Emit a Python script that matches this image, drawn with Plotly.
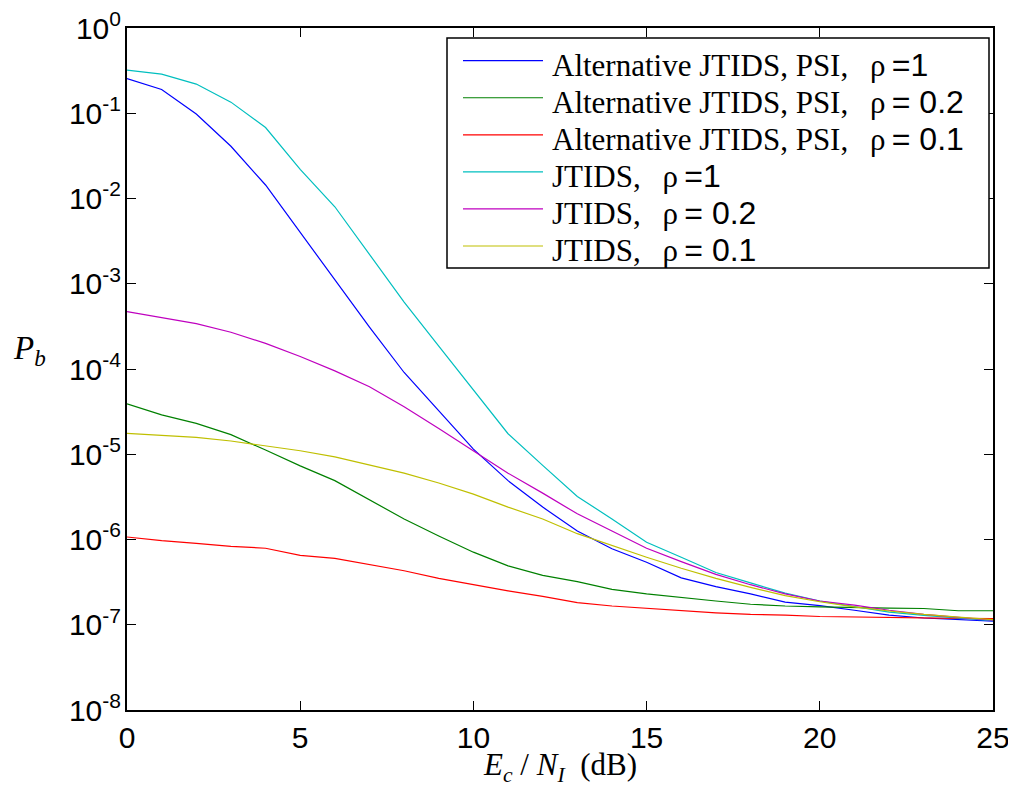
import plotly.graph_objects as go

x_db = list(range(26))

alt_rho1 = [0.255, 0.19, 0.098, 0.041, 0.0144, 0.004, 1.1e-3, 3.1e-4, 9.1e-5, 3.2e-5,
            1.15e-5, 4.9e-6, 2.4e-6, 1.26e-6, 7.8e-7, 5.4e-7, 3.55e-7, 2.8e-7, 2.3e-7, 1.84e-7,
            1.68e-7, 1.48e-7, 1.3e-7, 1.2e-7, 1.15e-7, 1.1e-7]
alt_rho02 = [3.9e-5, 2.9e-5, 2.3e-5, 1.7e-5, 1.12e-5, 7.3e-6, 4.9e-6, 2.9e-6, 1.74e-6, 1.1e-6,
             7.1e-7, 4.9e-7, 3.8e-7, 3.2e-7, 2.6e-7, 2.3e-7, 2.07e-7, 1.9e-7, 1.74e-7, 1.66e-7,
             1.62e-7, 1.58e-7, 1.57e-7, 1.55e-7, 1.46e-7, 1.46e-7]
alt_rho01 = [1.07e-6, 9.7e-7, 9.0e-7, 8.3e-7, 7.9e-7, 6.5e-7, 6.0e-7, 5.1e-7, 4.3e-7, 3.5e-7,
             2.95e-7, 2.5e-7, 2.15e-7, 1.82e-7, 1.66e-7, 1.55e-7, 1.47e-7, 1.38e-7, 1.32e-7, 1.3e-7,
             1.25e-7, 1.23e-7, 1.22e-7, 1.2e-7, 1.19e-7, 1.18e-7]
jt_rho1 = [0.32, 0.288, 0.22, 0.135, 0.068, 0.022, 0.008, 2.2e-3, 6.1e-4, 1.86e-4,
           5.6e-5, 1.74e-5, 7.4e-6, 3.2e-6, 1.74e-6, 9.3e-7, 6.2e-7, 4.1e-7, 3.1e-7, 2.35e-7,
           1.9e-7, 1.62e-7, 1.41e-7, 1.29e-7, 1.2e-7, 1.12e-7]
jt_rho02 = [4.7e-4, 4.0e-4, 3.4e-4, 2.7e-4, 2.0e-4, 1.4e-4, 9.5e-5, 6.2e-5, 3.6e-5, 2.0e-5,
            1.1e-5, 6.0e-6, 3.5e-6, 2.0e-6, 1.26e-6, 7.9e-7, 5.5e-7, 3.9e-7, 2.95e-7, 2.3e-7,
            1.9e-7, 1.7e-7, 1.48e-7, 1.32e-7, 1.22e-7, 1.13e-7]
jt_rho01 = [1.76e-5, 1.68e-5, 1.58e-5, 1.43e-5, 1.26e-5, 1.1e-5, 9.3e-6, 7.4e-6, 6.0e-6, 4.6e-6,
            3.4e-6, 2.4e-6, 1.74e-6, 1.17e-6, 8.5e-7, 6.2e-7, 4.6e-7, 3.5e-7, 2.75e-7, 2.2e-7,
            1.86e-7, 1.62e-7, 1.45e-7, 1.32e-7, 1.23e-7, 1.15e-7]

x_ticks = [0, 5, 10, 15, 20, 25]
y_tickvals = [1, 1e-1, 1e-2, 1e-3, 1e-4, 1e-5, 1e-6, 1e-7, 1e-8]
y_ticktext = ["10<sup>0</sup>", "10<sup>-1</sup>", "10<sup>-2</sup>", "10<sup>-3</sup>",
              "10<sup>-4</sup>", "10<sup>-5</sup>", "10<sup>-6</sup>", "10<sup>-7</sup>",
              "10<sup>-8</sup>"]

legend_prefixes = ["Alternative JTIDS, PSI,", "Alternative JTIDS, PSI,", "Alternative JTIDS, PSI,",
                   "JTIDS,", "JTIDS,", "JTIDS,"]
legend_rhos = ["=1", "= 0.2", "= 0.1", "=1", "= 0.2", "= 0.1"]
colors = ["#0000ff", "#008000", "#ff0000", "#00bfbf", "#bf00bf", "#bfbf00"]
series = [alt_rho1, alt_rho02, alt_rho01, jt_rho1, jt_rho02, jt_rho01]

SERIF = "Liberation Serif"
SANS = "Liberation Sans"
NB = "\u00a0"
THIN = "\u2009"

fig = go.Figure()
for ys, col, pre, rho in zip(series, colors, legend_prefixes, legend_rhos):
    fig.add_trace(go.Scatter(x=x_db, y=ys, mode="lines", name=f"{pre} ρ {rho}",
                             line=dict(color=col, width=1.2), showlegend=False))

# manual legend (paper coordinates of the plot area)
L, R, T, B = 127.0, 993.0, 28.0, 710.0
def px(v):
    return (v - L) / (R - L)
def py(v):
    return (B - v) / (B - T)

shapes = [dict(type="rect", xref="paper", yref="paper",
               x0=px(447), x1=px(989), y0=py(268), y1=py(38),
               line=dict(color="black", width=1.5), fillcolor="white", layer="above")]
annotations = []
for i, (col, pre, rho) in enumerate(zip(colors, legend_prefixes, legend_rhos)):
    yrow = 60.7 + 37.06 * i
    shapes.append(dict(type="line", xref="paper", yref="paper",
                       x0=px(463), x1=px(543), y0=py(yrow), y1=py(yrow),
                       line=dict(color=col, width=1.2), layer="above"))
    text = (f'<span style="font-family:{SERIF}">{pre}{NB}{NB}{THIN}ρ</span>'
            f'<span style="font-family:{SANS};font-size:32px">{THIN}{rho.replace(" ", NB)}</span>')
    annotations.append(dict(text=text, xref="paper", yref="paper",
                            x=px(550), y=py(yrow + 4), xanchor="left", yanchor="middle",
                            showarrow=False, font=dict(family=SERIF, size=31, color="black")))

annotations += [
    dict(text=f"<i>E<sub>c</sub></i> / <i>N<sub>I</sub></i>{NB} (dB)", xref="paper", yref="paper",
         x=0.5, y=py(767), xanchor="center", yanchor="middle", showarrow=False,
         font=dict(family=SERIF, size=31)),
    dict(text="<i>P<sub>b</sub></i>", xref="paper", yref="paper",
         x=px(29), y=py(350), xanchor="center", yanchor="middle", showarrow=False,
         font=dict(family=SERIF, size=33)),
]

# page has an 8px body margin: figure is sized so the plot area lands at page 127..993 x 28..710
fig.update_layout(
    width=1008, height=785,
    margin=dict(l=119, r=23, t=20, b=83, autoexpand=False),
    paper_bgcolor="white", plot_bgcolor="white",
    font=dict(family=SANS, size=30, color="black"),
    showlegend=False,
    xaxis=dict(range=[0, 25], tickvals=x_ticks, showgrid=False, zeroline=False,
               showline=True, linecolor="black", linewidth=2, mirror="ticks",
               ticks="inside", ticklen=9, tickcolor="black", tickwidth=1,
               tickfont=dict(family=SANS, size=30), automargin=False,
               ticklabeloverflow="allow"),
    yaxis=dict(type="log", range=[-8, 0], tickvals=y_tickvals, ticktext=y_ticktext,
               showgrid=False, zeroline=False,
               showline=True, linecolor="black", linewidth=2, mirror="ticks",
               ticks="inside", ticklen=9, tickcolor="black", tickwidth=1,
               tickfont=dict(family=SANS, size=30), ticklabelstandoff=-2,
               automargin=False, ticklabeloverflow="allow"),
    shapes=shapes,
    annotations=annotations,
)

fig.write_html("out.html")
